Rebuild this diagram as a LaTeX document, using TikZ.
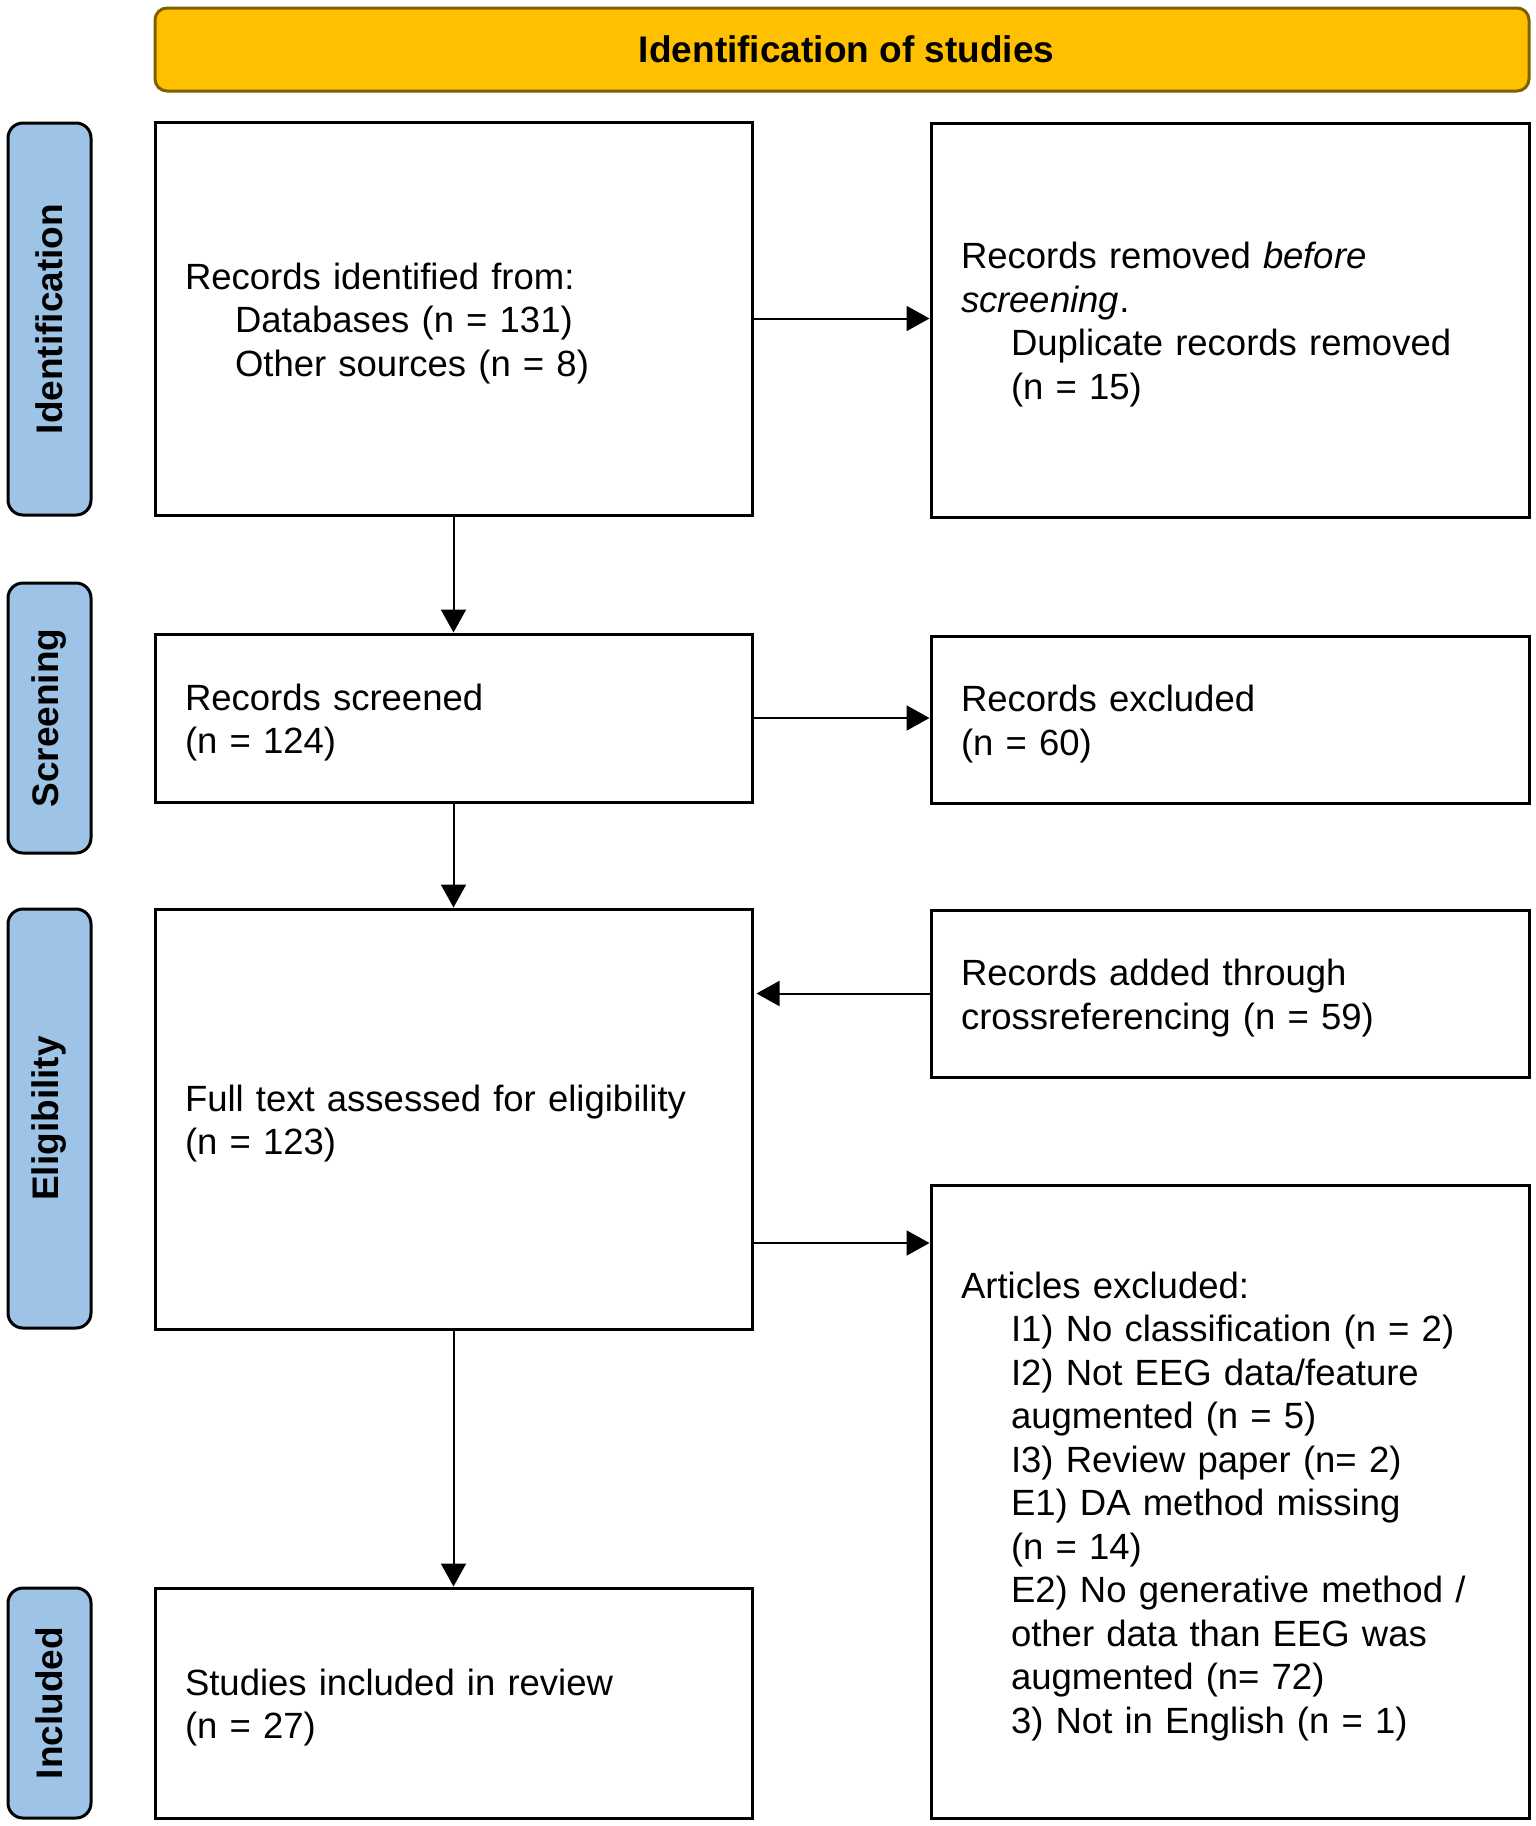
\documentclass[tikz,border=0pt]{standalone}
\usepackage{fontspec}
\setmainfont{Liberation Sans}
\usetikzlibrary{arrows.meta}
\definecolor{hdrfill}{HTML}{FFC000}
\definecolor{hdrline}{HTML}{7F6000}
\definecolor{sidefill}{HTML}{9DC3E6}
\newcommand\prfs{\fontsize{18.5pt}{21.75pt}\selectfont}
\newcommand\prbx{\fontsize{18.25pt}{21.75pt}\selectfont}
\newcommand\prst{\rule{0pt}{18pt}}
\newcommand\ind{\hspace*{25pt}}
\begin{document}
\begin{tikzpicture}[x=0.5pt,y=-0.5pt,
  box/.style={draw, line width=1.5pt, inner ysep=0pt, inner xsep=15pt, align=left, font=\prbx, execute at begin node=\prst},
  bbox/.style={box, minimum width=298.5pt, text width=268.5pt},
  rbox/.style={box, minimum width=299pt, text width=269pt},
  side/.style={draw, line width=1.5pt, fill=sidefill, rounded corners=7.5pt, minimum height=41.5pt, inner sep=0pt, rotate=90, font=\prfs\bfseries},
  hdr/.style={draw=hdrline, line width=1.5pt, fill=hdrfill, rounded corners=6pt, minimum width=687pt, minimum height=41.5pt, inner sep=0pt, font=\prfs\bfseries},
  arr/.style={-{Triangle[length=11.5pt,width=12.5pt]}, line width=1pt}]
\useasboundingbox (0,0) rectangle (1536,1826);
\node[hdr] (H) at (842,49.5) {\hspace*{4.6pt}Identification of studies};
% side labels
\node[side, minimum width=196pt] (S1) at (49.5,319) {Identification};
\node[side, minimum width=135pt] (S2) at (49.5,718) {Screening};
\node[side, minimum width=209.5pt] (S3) at (49.5,1118.5) {Eligibility};
\node[side, minimum width=115pt] (S4) at (49.5,1703) {Included};
% left boxes
\node[bbox, minimum height=196.5pt] (B1) at (453.5,318.5) {Records identified from:\\ \ind Databases (n = 131)\\ \ind Other sources (n = 8)};
\node[bbox, minimum height=84pt] (B2) at (453.5,718) {Records screened\\(n = 124)};
\node[bbox, minimum height=210pt] (B3) at (453.5,1119) {Full text assessed for eligibility\\(n = 123)};
\node[bbox, minimum height=115pt] (B4) at (453.5,1703) {Studies included in review\\(n = 27)};
% right boxes
\node[rbox, minimum height=197pt] (R1) at (1230,320) {Records removed \textit{before}\\ \textit{screening}.\\ \ind Duplicate records removed\\ \ind (n = 15)};
\node[rbox, minimum height=83.5pt] (R2) at (1230,719.5) {Records excluded\\(n = 60)};
\node[rbox, minimum height=83.5pt] (R3) at (1230,993.5) {Records added through\\crossreferencing (n = 59)};
\node[rbox, minimum height=316.5pt] (R4) at (1230,1501.5) {Articles excluded:\\
 \ind I1) No classification (n = 2)\\
 \ind I2) Not EEG data/feature\\
 \ind augmented (n = 5)\\
 \ind I3) Review paper (n= 2)\\
 \ind E1) DA method missing\\
 \ind (n = 14)\\
 \ind E2) No generative method /\\
 \ind other data than EEG was\\
 \ind augmented (n= 72)\\
 \ind 3) Not in English (n = 1)};
% connectors
\draw[arr] (B1.south) -- (B2.north);
\draw[arr] (B2.south) -- (B3.north);
\draw[arr] (B3.south) -- (B4.north);
\draw[arr] (B1.east) -- (B1.east -| R1.west);
\draw[arr] (B2.east) -- (B2.east -| R2.west);
\draw[arr, shorten >=1.5pt] (R3.west) -- (R3.west -| B3.east);
\draw[arr] ([yshift=-62pt]B3.east) -- ([yshift=-62pt]B3.east -| R4.west);
\end{tikzpicture}
\end{document}
